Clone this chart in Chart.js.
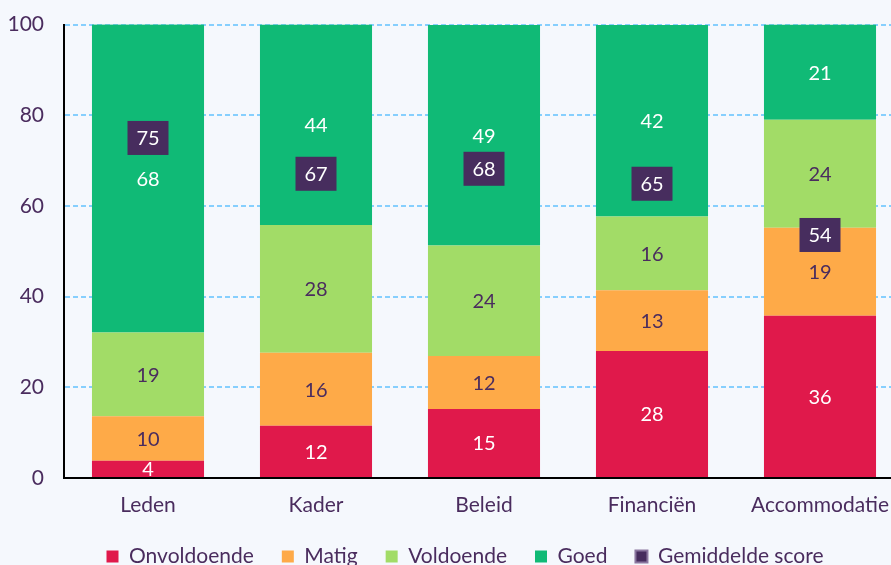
<!DOCTYPE html>
<html>
<head>
<meta charset="utf-8">
<script src="https://cdn.jsdelivr.net/npm/chart.js@4/dist/chart.umd.min.js"></script>
<style>
  html, body { margin: 0; padding: 0; background: #f5f8fd; overflow: hidden; width: 891px; height: 565px; }
  canvas { display: block; }
</style>
</head>
<body>
<canvas id="chart" width="930" height="577"></canvas>
<script>
const categories = ["Leden", "Kader", "Beleid", "Financiën", "Accommodatie"];
const onvoldoende = [3.8, 11.5, 15.2, 28.0, 35.8];
const matig = [9.8, 16.1, 11.7, 13.4, 19.4];
const voldoende = [18.5, 28.2, 24.4, 16.3, 23.8];
const goed = [68, 44.2, 48.6, 42.2, 21];
const gemiddeldeScore = [75, 67.1, 68.2, 64.9, 53.6];
const yTicks = [0, 20, 40, 60, 80, 100];

const textColor = "#4a2c5e";
const font = { family: "Lato", size: 21 };

const labelPlugin = {
  id: "valueLabels",
  afterDatasetsDraw(chart) {
    const ctx = chart.ctx;
    const area = chart.chartArea;
    ctx.save();
    ctx.font = "20px Lato";
    ctx.textAlign = "center";
    ctx.textBaseline = "middle";
    chart.data.datasets.forEach((ds, i) => {
      const meta = chart.getDatasetMeta(i);
      meta.data.forEach((el, j) => {
        const v = ds.data[j];
        if (ds.type === "line") {
          const w = 41, h = 34;
          ctx.fillStyle = "#472d5e";
          ctx.fillRect(el.x - w / 2, el.y - h / 2, w, h);
          ctx.fillStyle = "#ffffff";
          ctx.fillText(Math.round(v), el.x, el.y + 1);
        } else {
          const top = Math.max(el.y, area.top);
          const bottom = Math.min(el.base, area.bottom);
          ctx.fillStyle = ds.labelColor;
          ctx.fillText(Math.round(v), el.x, (top + bottom) / 2 + 1);
        }
      });
    });
    ctx.restore();
  }
};

const barOpts = { barPercentage: 0.667, categoryPercentage: 1, borderWidth: 0 };

new Chart(document.getElementById("chart"), {
  type: "bar",
  data: {
    labels: categories,
    datasets: [
      { label: "Onvoldoende", data: onvoldoende, backgroundColor: "#e0194b", labelColor: "#ffffff", ...barOpts },
      { label: "Matig", data: matig, backgroundColor: "#feaa48", labelColor: textColor, ...barOpts },
      { label: "Voldoende", data: voldoende, backgroundColor: "#a2dc67", labelColor: textColor, ...barOpts },
      { label: "Goed", data: goed, backgroundColor: "#10ba76", labelColor: "#ffffff", ...barOpts },
      {
        type: "line", label: "Gemiddelde score", data: gemiddeldeScore, stack: "avg",
        showLine: false, pointRadius: 0, pointHoverRadius: 0,
        backgroundColor: "#472d5e", borderColor: "#8b77a0", borderWidth: 2
      }
    ]
  },
  options: {
    responsive: false,
    animation: false,
    layout: { padding: { top: 12, left: 0, right: 0, bottom: 0 } },
    plugins: {
      legend: {
        position: "bottom",
        labels: { font: { family: "Lato", size: 21 }, color: textColor, boxWidth: 12, boxHeight: 12, padding: 28 }
      },
      tooltip: { enabled: false }
    },
    scales: {
      x: {
        stacked: true,
        grid: { display: false },
        border: { display: true, color: "#000000", width: 2 },
        ticks: { font: font, color: textColor, padding: 7 },
        afterFit: (s) => { s.height = 40; }
      },
      y: {
        stacked: true,
        min: 0,
        max: 100,
        afterBuildTicks: (s) => { s.ticks = yTicks.map((v) => ({ value: v })); },
        grid: {
          drawTicks: true,
          tickLength: 8,
          tickColor: "rgba(0,0,0,0)",
          color: (c) => (c.tick && c.tick.value === 0 ? "rgba(0,0,0,0)" : "#86cffe"),
          lineWidth: 2
        },
        border: { display: true, color: "#000000", width: 2, dash: [5, 3] },
        ticks: { font: font, color: textColor, padding: 12 },
        afterFit: (s) => { s.width = 64; }
      },
      y2: {
        position: "right",
        display: true,
        grid: { display: false },
        border: { display: false },
        ticks: { display: false },
        afterFit: (s) => { s.width = 26; }
      }
    }
  },
  plugins: [labelPlugin]
});
</script>
</body>
</html>
